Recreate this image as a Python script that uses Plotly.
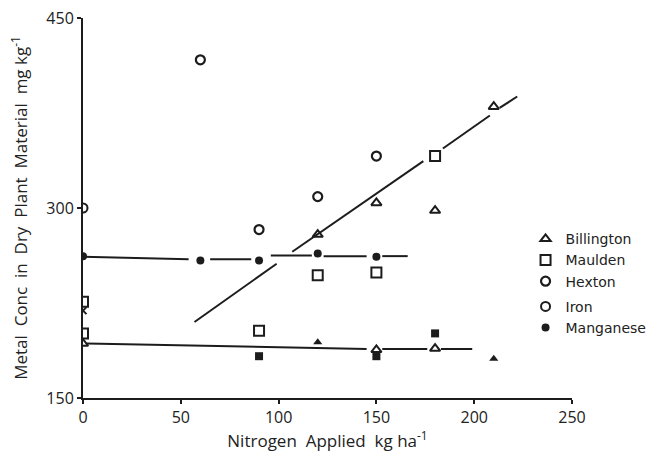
import plotly.graph_objects as go

# ---- data ----
x_ticks = [0, 50, 100, 150, 200, 250]
y_ticks = [150, 300, 450]
y_tick_text = ["150", "300", "450"]

billington_x = [0, 120, 150, 180, 210, 150, 180]
billington_y = [193, 279, 304, 298, 380, 188, 189]
billington_solid_x = [120, 210]
billington_solid_y = [194, 181]

maulden_x = [0, 0, 90, 120, 150, 180]
maulden_y = [201, 226, 203, 247, 249, 341]
maulden_solid_x = [90, 150, 180]
maulden_solid_y = [183, 183, 201]

hexton_x = [60, 90, 120, 150]
hexton_y = [417, 283, 309, 341]

iron_x = [0]
iron_y = [300]

manganese_x = [0, 60, 90, 120, 150]
manganese_y = [262, 258.5, 258.5, 264, 261.5]

cross_x = [0]
cross_y = [219]

# fitted lines (broken where they pass the symbols)
rise_x = [57, 99, None, 107, 174, None, 184, 208, None, 213, 222]
rise_y = [210, 256, None, 265.5, 337, None, 347, 373, None, 379, 388]

mn_line_x = [0, 54, None, 65, 86, None, 96, 117, None, 123, 145, None, 153, 166]
mn_line_y = [261.5, 259.5, None, 259.5, 259.5, None, 262.5, 262.5, None, 262, 262, None, 262, 262]

low_line_x = [2, 88, 145, None, 153, 176, None, 183, 199]
low_line_y = [193, 190.5, 188.7, None, 188.7, 188.7, None, 188.7, 188.7]

INK = "#1c1c1c"
TXT = "#222222"
FONT = "Open Sans"

fig = go.Figure()

# lines
for lx, ly in [(rise_x, rise_y), (mn_line_x, mn_line_y), (low_line_x, low_line_y)]:
    fig.add_trace(go.Scatter(x=lx, y=ly, mode="lines", showlegend=False,
                             line=dict(color=INK, width=2), hoverinfo="skip"))

# extra (unlabelled) symbols
fig.add_trace(go.Scatter(x=billington_solid_x, y=billington_solid_y, mode="markers",
                         showlegend=False,
                         marker=dict(symbol="triangle-up", size=8, color=INK)))
fig.add_trace(go.Scatter(x=maulden_solid_x, y=maulden_solid_y, mode="markers",
                         showlegend=False,
                         marker=dict(symbol="square", size=8, color=INK)))
fig.add_trace(go.Scatter(x=cross_x, y=cross_y, mode="markers", showlegend=False,
                         marker=dict(symbol="x-thin-open", size=7, color=INK,
                                     line=dict(color=INK, width=2))))

# legend series
fig.add_trace(go.Scatter(x=billington_x, y=billington_y, mode="markers", name="Billington",
                         legendgroup="a",
                         marker=dict(symbol="triangle-up-open", size=9, color=INK,
                                     line=dict(color=INK, width=2))))
fig.add_trace(go.Scatter(x=maulden_x, y=maulden_y, mode="markers", name="Maulden",
                         legendgroup="a",
                         marker=dict(symbol="square-open", size=10, color=INK,
                                     line=dict(color=INK, width=2))))
fig.add_trace(go.Scatter(x=hexton_x, y=hexton_y, mode="markers", name="Hexton",
                         legendgroup="a",
                         marker=dict(symbol="circle-open", size=9, color=INK,
                                     line=dict(color=INK, width=2.2))))
fig.add_trace(go.Scatter(x=iron_x, y=iron_y, mode="markers", name="Iron",
                         legendgroup="b",
                         marker=dict(symbol="circle-open", size=9, color=INK,
                                     line=dict(color=INK, width=2))))
fig.add_trace(go.Scatter(x=manganese_x, y=manganese_y, mode="markers", name="Manganese",
                         legendgroup="b",
                         marker=dict(symbol="circle", size=8, color=INK)))

fig.update_layout(
    width=666, height=452,
    margin=dict(l=83, r=94, t=18, b=54, autoexpand=False),
    paper_bgcolor="white", plot_bgcolor="white",
    font=dict(family=FONT, size=15, color=TXT),
    showlegend=True,
    legend=dict(x=0.905, y=0.46, xanchor="left", yanchor="top",
                font=dict(size=14, family="DejaVu Sans", color=TXT),
                bgcolor="rgba(0,0,0,0)", tracegroupgap=4, itemwidth=30),
    xaxis=dict(range=[0, 250], tickvals=x_ticks, showgrid=False, zeroline=False,
               showline=True, linecolor=INK, linewidth=2,
               ticks="outside", ticklen=4, tickwidth=1.5, tickcolor=INK,
               tickfont=dict(size=16, color=TXT),
               title=dict(text="Nitrogen  Applied  kg ha<sup>-1</sup>",
                          font=dict(size=17, color=TXT), standoff=4)),
    yaxis=dict(range=[150, 450], tickvals=y_ticks, ticktext=y_tick_text,
               showgrid=False, zeroline=False,
               showline=True, linecolor=INK, linewidth=2,
               ticks="outside", ticklen=4, tickwidth=1.5, tickcolor=INK,
               tickfont=dict(size=16, color=TXT),
               title=dict(text="Metal  Conc  in  Dry  Plant  Material  mg kg<sup>-1</sup>",
                          font=dict(size=17, color=TXT), standoff=14)),
)

fig.write_html("out.html")
